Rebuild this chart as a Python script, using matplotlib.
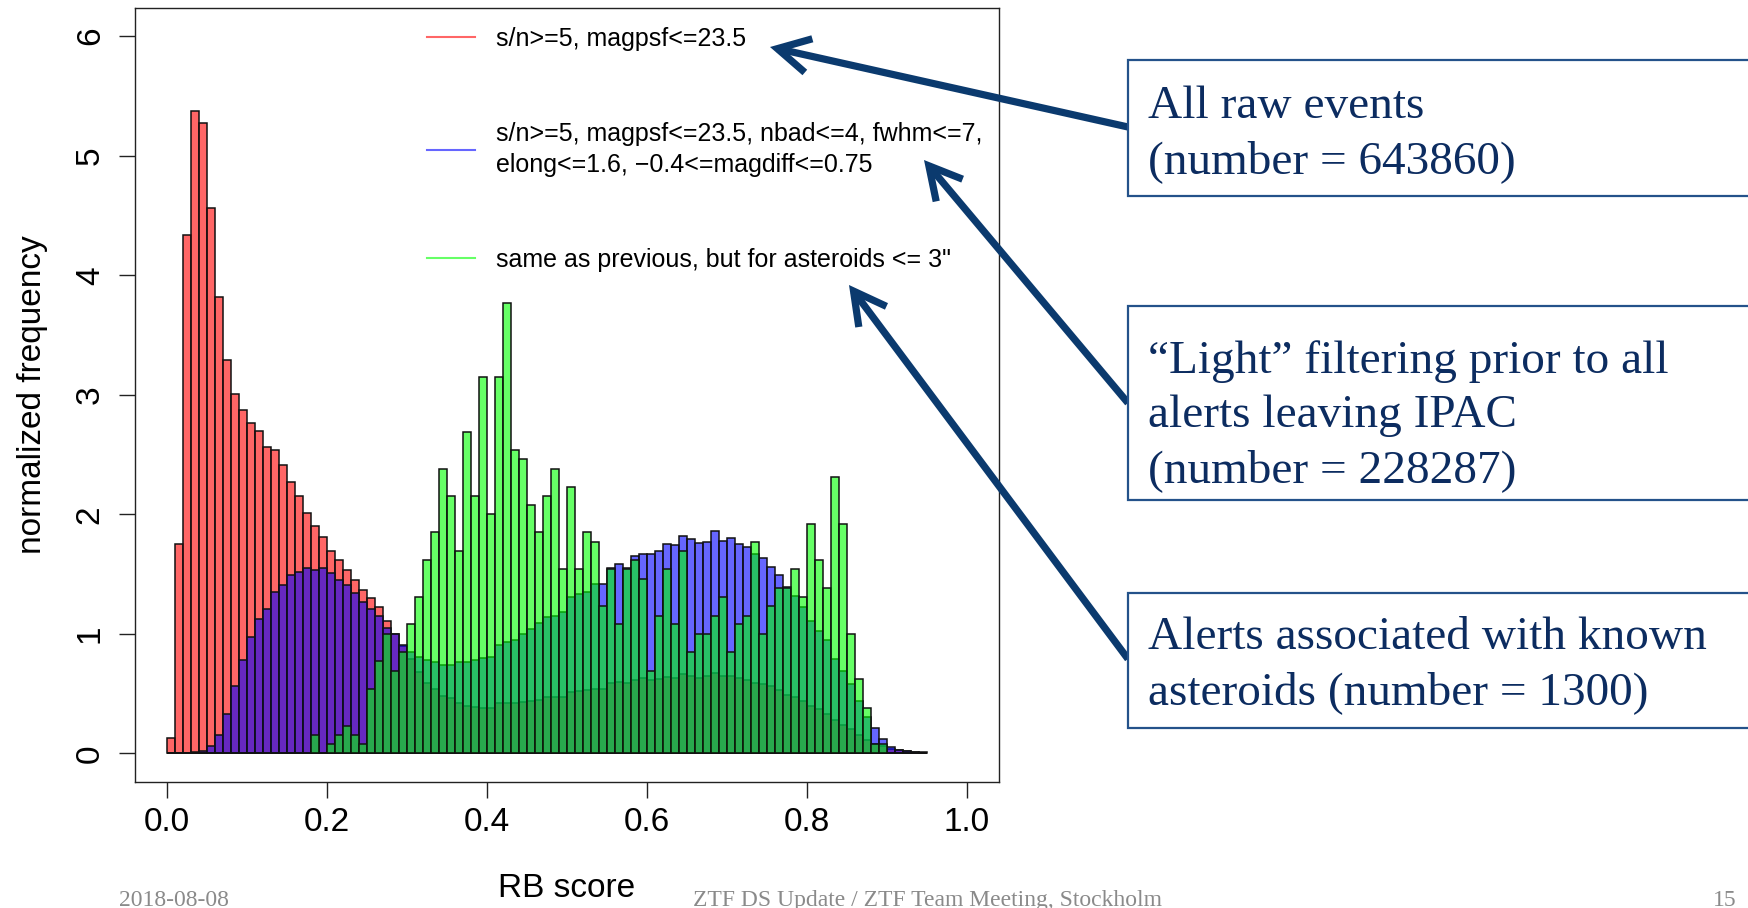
import numpy as np
import matplotlib
matplotlib.use("Agg")
import matplotlib.pyplot as plt
from matplotlib.lines import Line2D
from matplotlib.patches import FancyArrowPatch, Rectangle

plt.rcParams['font.family'] = ['Liberation Sans', 'DejaVu Sans']

# %% histogram data: normalized frequency per RB score bin (bins of 0.01, 0.00 - 0.95)
bin_width = 0.01
bin_left = np.round(np.arange(0, 0.95, bin_width), 2)

# s/n>=5, magpsf<=23.5 (all raw events)
red_density = [0.13, 1.75, 4.34, 5.37, 5.27, 4.56, 3.82, 3.29, 3.01, 2.87,
               2.76, 2.70, 2.56, 2.54, 2.41, 2.27, 2.15, 2.01, 1.90, 1.81,
               1.69, 1.62, 1.53, 1.45, 1.37, 1.30, 1.22, 1.11, 1.00, 0.90,
               0.79, 0.68, 0.59, 0.54, 0.48, 0.46, 0.42, 0.40, 0.39, 0.38,
               0.38, 0.42, 0.42, 0.42, 0.43, 0.44, 0.45, 0.47, 0.47, 0.47,
               0.51, 0.52, 0.53, 0.54, 0.54, 0.59, 0.60, 0.59, 0.61, 0.63,
               0.61, 0.62, 0.64, 0.63, 0.66, 0.65, 0.63, 0.65, 0.67, 0.65,
               0.65, 0.63, 0.61, 0.59, 0.58, 0.56, 0.53, 0.49, 0.47, 0.44,
               0.40, 0.37, 0.33, 0.28, 0.24, 0.20, 0.15, 0.11, 0.08, 0.06,
               0.04, 0.03, 0.02, 0.01, 0.005]

# light filtering (alerts leaving IPAC)
blue_density = [0, 0, 0, 0.01, 0.02, 0.06, 0.15, 0.33, 0.56, 0.78,
                0.97, 1.12, 1.21, 1.35, 1.41, 1.49, 1.52, 1.55, 1.53, 1.55,
                1.51, 1.45, 1.41, 1.34, 1.27, 1.21, 1.15, 1.05, 1.00, 0.91,
                0.85, 0.81, 0.78, 0.76, 0.74, 0.74, 0.76, 0.76, 0.78, 0.80,
                0.81, 0.91, 0.93, 0.95, 1.00, 1.04, 1.09, 1.14, 1.15, 1.18,
                1.31, 1.33, 1.35, 1.42, 1.42, 1.55, 1.58, 1.55, 1.65, 1.67,
                1.67, 1.69, 1.75, 1.74, 1.82, 1.79, 1.76, 1.77, 1.86, 1.78,
                1.80, 1.75, 1.73, 1.67, 1.63, 1.56, 1.49, 1.39, 1.32, 1.22,
                1.11, 1.02, 0.95, 0.79, 0.69, 0.58, 0.44, 0.30, 0.21, 0.12,
                0.05, 0.03, 0.02, 0.01, 0.01]

# same cuts, known asteroids within 3"
green_density = [0, 0, 0, 0, 0, 0, 0, 0, 0, 0,
                 0, 0, 0, 0, 0, 0, 0, 0, 0.15, 0,
                 0.08, 0.15, 0.23, 0.15, 0.08, 0.54, 0.77, 1.00, 0.69, 0.85,
                 1.08, 1.31, 1.62, 1.85, 2.38, 2.15, 1.69, 2.69, 2.15, 3.15,
                 2.00, 3.15, 3.77, 2.54, 2.46, 2.08, 1.85, 2.15, 2.38, 1.54,
                 2.23, 1.54, 1.85, 1.77, 1.23, 1.54, 1.08, 1.54, 1.62, 1.46,
                 0.69, 1.15, 1.54, 1.08, 1.69, 0.85, 1.00, 1.00, 1.15, 1.31,
                 0.85, 1.08, 1.15, 1.77, 1.00, 1.23, 1.38, 1.38, 1.54, 1.31,
                 1.92, 1.62, 1.38, 2.31, 1.92, 1.00, 0.62, 0.38, 0.08, 0.08,
                 0, 0, 0, 0, 0]

legend_labels = ["s/n>=5, magpsf<=23.5",
                 "s/n>=5, magpsf<=23.5, nbad<=4, fwhm<=7,\nelong<=1.6, \u22120.4<=magdiff<=0.75",
                 'same as previous, but for asteroids <= 3"']

x_ticks = [0.0, 0.2, 0.4, 0.6, 0.8, 1.0]
x_ticklabels = ["0.0", "0.2", "0.4", "0.6", "0.8", "1.0"]
y_ticks = [0, 1, 2, 3, 4, 5, 6]

box_texts = [["All raw events", "(number = 643860)"],
             ["\u201cLight\u201d filtering prior to all", "alerts leaving IPAC", "(number = 228287)"],
             ["Alerts associated with known", "asteroids (number = 1300)"]]

# %% figure
W, H = 1749, 908
fig = plt.figure(figsize=(W / 100, H / 100), dpi=100)
ax = fig.add_axes([134.7 / W, 1 - 782 / H, 864 / W, 774.5 / H])

fills = [(1, 0, 0, 0.6), (0, 0, 1, 0.6), (0, 1, 0, 0.6)]
for dens, face in zip([red_density, blue_density, green_density], fills):
    ax.bar(bin_left, dens, width=bin_width, align='edge', color=face,
           edgecolor='#111111', linewidth=1.1)

ax.set_xlim(-0.04, 1.04)
ax.set_ylim(-0.24, 6.24)
for sp in ax.spines.values():
    sp.set_color('#222222')
    sp.set_linewidth(1.0)

ax.set_xticks(x_ticks)
ax.set_xticklabels(x_ticklabels)
ax.set_yticks(y_ticks)
ax.set_yticklabels([str(v) for v in y_ticks], rotation=90, va='center')
ax.tick_params(direction='out', length=11.3, width=1.0, color='#222222', labelsize=24)
ax.tick_params(axis='x', pad=6.7)
ax.tick_params(axis='y', pad=9.5)

ax.set_xlabel("RB score", fontsize=24)
ax.xaxis.label.set_va('baseline')
ax.xaxis.set_label_coords(0.5, -(897 - 782) / 774.5)
ax.set_ylabel("normalized frequency", fontsize=24)
ax.yaxis.label.set_va('center')
ax.yaxis.set_label_coords((33 - 134.7) / 864, 0.5)

handles = [Line2D([], [], color=c, lw=1.5) for c in ['#ff6666', '#6666ff', '#66ff66']]
leg = ax.legend(handles, legend_labels, loc='upper left', bbox_to_anchor=(0.338, 0.975),
                frameon=False, fontsize=18, handlelength=1.92, handletextpad=0.84,
                labelspacing=2.85, borderpad=0, borderaxespad=0)
for t in leg.get_texts():
    t.set_linespacing(1.35)

# %% annotation boxes with arrows pointing at the legend entries
navy = '#0b3a6e'
text_navy = '#0c2c60'


def fxy(x, y):
    return (x / W, 1 - y / H)


arrows = [((1128, 127), (770, 47)),
          ((1128, 403), (924, 160)),
          ((1128, 659), (849, 285))]
for start, tip in arrows:
    fig.add_artist(FancyArrowPatch(fxy(*start), fxy(*tip), transform=fig.transFigure,
                                   arrowstyle='->,head_length=0.5,head_width=0.27',
                                   mutation_scale=46, lw=5.2, color=navy,
                                   shrinkA=0, shrinkB=0, capstyle='butt',
                                   joinstyle='miter'))

boxes = [(60, 196), (306, 500), (593, 728)]
baselines = [[118, 173], [373, 427, 482], [649, 704]]
for (top, bottom), lines, bls in zip(boxes, box_texts, baselines):
    x0, y0 = fxy(1128, bottom)
    fig.add_artist(Rectangle((x0, y0), 1.1 - x0, (bottom - top) / H, transform=fig.transFigure,
                             facecolor='white', edgecolor='#24528a', lw=1.6))
    for line, bl in zip(lines, bls):
        fig.text(*fxy(1148, bl), line, family='Liberation Serif', fontsize=34,
                 color=text_navy, va='baseline', ha='left')

# footer
footer_kw = dict(family='Liberation Serif', fontsize=17, color='#8a8a8a', va='baseline')
fig.text(*fxy(119, 906), "2018-08-08", ha='left', **footer_kw)
fig.text(*fxy(928, 906), "ZTF DS Update / ZTF Team Meeting, Stockholm", ha='center', **footer_kw)
fig.text(*fxy(1737, 906), "15", ha='right', **footer_kw)

fig.savefig("out.png", dpi=100)
